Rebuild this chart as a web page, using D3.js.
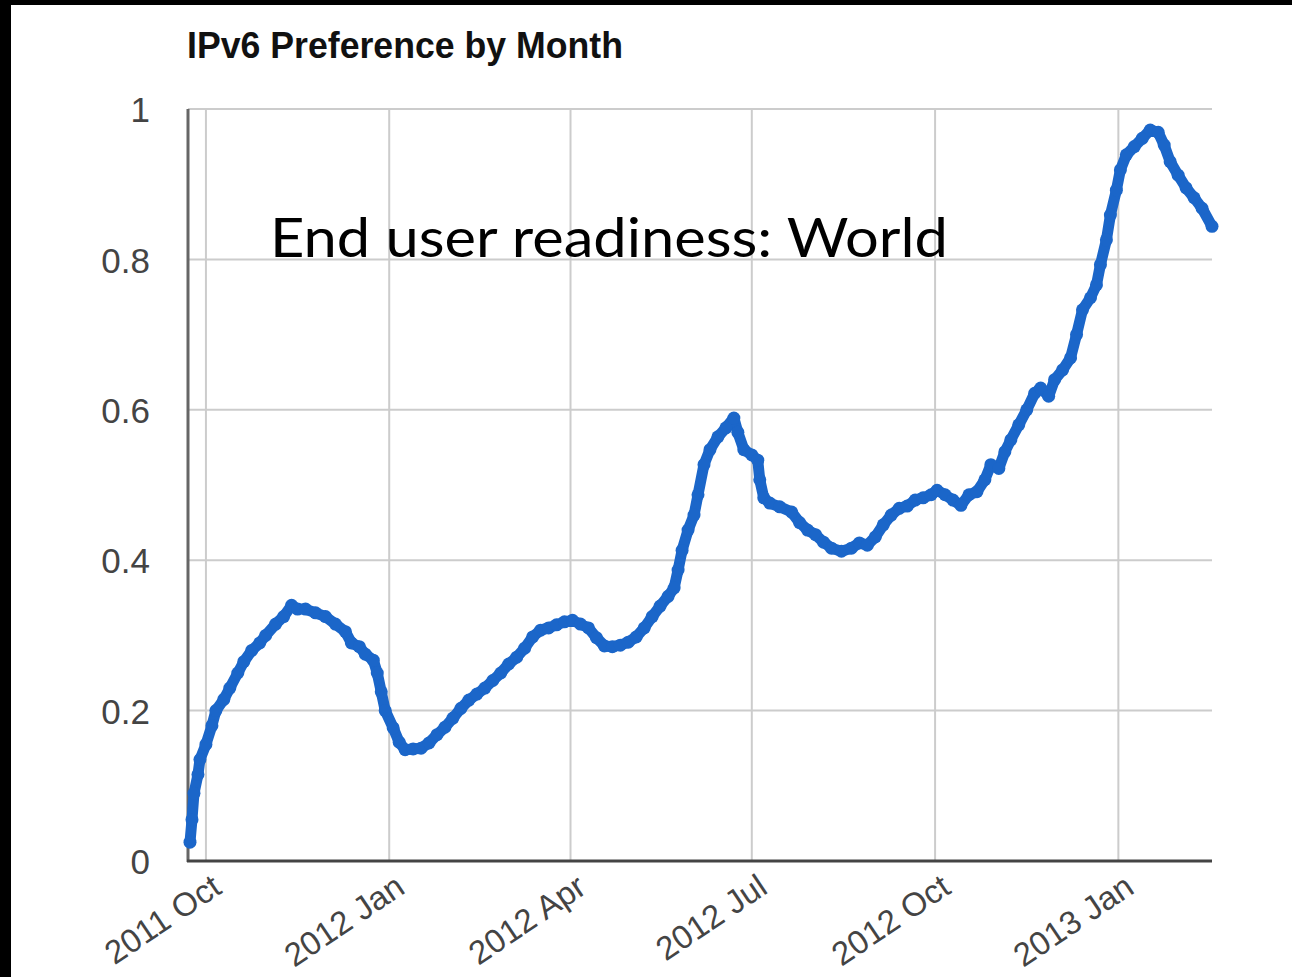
<!DOCTYPE html>
<html>
<head>
<meta charset="utf-8">
<script src="https://cdn.jsdelivr.net/npm/d3@7"></script>
<style>
html,body{margin:0;padding:0;background:#000;}
svg{display:block;}
</style>
</head>
<body>
<svg id="chart" width="1292" height="977"></svg>
<script>
// Data: days since 2011-10-01 and IPv6 preference value
const startDate = new Date(2011, 9, 1);
const dayOffsets = [-8,-7,-6,-4,-3,0,3,5,9,12,16,19,23,27,30,35,39,43,46,50,55,60,65,70,73,77,80,84,86,88,90,94,97,100,104,108,112,116,120,124,128,132,136,140,144,148,152,156,160,164,168,172,176,180,184,188,192,196,200,204,208,212,216,220,224,228,232,235,237,239,242,245,247,250,253,257,261,265,267,270,274,277,278,280,283,288,294,298,302,306,310,314,319,324,328,332,336,340,344,348,352,356,360,364,367,371,375,379,383,387,391,394,398,401,404,408,412,416,419,423,426,430,434,437,440,444,447,449,452,454,457,459,462,466,470,474,478,481,484,488,492,496,500,505];
const values = [0.025,0.055,0.09,0.115,0.135,0.155,0.18,0.2,0.215,0.23,0.25,0.265,0.28,0.29,0.30,0.315,0.325,0.34,0.335,0.335,0.33,0.325,0.315,0.305,0.29,0.285,0.275,0.267,0.25,0.225,0.2,0.177,0.158,0.148,0.149,0.15,0.157,0.168,0.178,0.19,0.203,0.214,0.222,0.23,0.24,0.25,0.262,0.271,0.283,0.298,0.307,0.31,0.314,0.318,0.32,0.315,0.31,0.297,0.286,0.285,0.287,0.291,0.298,0.31,0.325,0.339,0.352,0.363,0.387,0.413,0.44,0.46,0.487,0.527,0.547,0.564,0.576,0.589,0.57,0.547,0.54,0.533,0.507,0.483,0.476,0.471,0.464,0.45,0.44,0.434,0.424,0.416,0.412,0.416,0.423,0.42,0.431,0.447,0.46,0.469,0.472,0.48,0.483,0.487,0.493,0.487,0.48,0.473,0.487,0.491,0.507,0.527,0.522,0.544,0.56,0.58,0.6,0.622,0.629,0.618,0.64,0.653,0.669,0.7,0.733,0.749,0.766,0.793,0.826,0.859,0.892,0.919,0.939,0.95,0.961,0.972,0.969,0.952,0.93,0.912,0.895,0.882,0.868,0.844];
const xTickDates = ["2011-10-01","2012-01-01","2012-04-01","2012-07-01","2012-10-01","2013-01-01"];
const xTickLabels = ["2011 Oct","2012 Jan","2012 Apr","2012 Jul","2012 Oct","2013 Jan"];
const yTicks = [0,0.2,0.4,0.6,0.8,1];
const yTickLabels = ["0","0.2","0.4","0.6","0.8","1"];
const titleText = "IPv6 Preference by Month";
const annotationText = "End user readiness: World";

const parse = d3.timeParse("%Y-%m-%d");
const data = dayOffsets.map((d,i)=>({date:d3.timeDay.offset(startDate,d), value:values[i]}));

const svg = d3.select("#chart");
svg.append("rect").attr("x",11).attr("y",5).attr("width",1292-11).attr("height",977-5).attr("fill","#fff");

const pL=188, pR=1212, pT=109, pB=861;
const x = d3.scaleTime()
  .domain([d3.timeDay.offset(startDate,-9), d3.timeDay.offset(startDate,505)])
  .range([pL,pR]);
const y = d3.scaleLinear().domain([0,1]).range([pB,pT]);

const tickDates = xTickDates.map(parse);

const g = svg.append("g");
g.selectAll(".hg").data(yTicks.filter(v=>v>0)).enter().append("line")
  .attr("x1",pL).attr("x2",pR).attr("y1",d=>y(d)).attr("y2",d=>y(d))
  .attr("stroke","#cccccc").attr("stroke-width",2);
g.selectAll(".vg").data(tickDates).enter().append("line")
  .attr("x1",d=>x(d)).attr("x2",d=>x(d)).attr("y1",pT).attr("y2",pB)
  .attr("stroke","#cccccc").attr("stroke-width",2);

svg.append("line").attr("x1",pL).attr("x2",pL).attr("y1",pT).attr("y2",pB+1)
  .attr("stroke","#666").attr("stroke-width",3);
svg.append("line").attr("x1",pL-1).attr("x2",pR).attr("y1",pB).attr("y2",pB)
  .attr("stroke","#444").attr("stroke-width",3);

const yAxis = d3.axisLeft(y).tickValues(yTicks).tickFormat((d,i)=>yTickLabels[i]).tickSize(0).tickPadding(38);
const ya = svg.append("g").attr("transform",`translate(${pL},0)`).call(yAxis);
ya.select(".domain").remove();
ya.selectAll("text").attr("font-family","'Liberation Sans', Arial, sans-serif")
  .attr("font-size",35).attr("fill","#444").attr("dy","0.36em");

const xAxis = d3.axisBottom(x).tickValues(tickDates).tickFormat((d,i)=>xTickLabels[i]).tickSize(0);
const xa = svg.append("g").attr("transform",`translate(0,${pB})`).call(xAxis);
xa.select(".domain").remove();
xa.selectAll("text")
  .attr("font-family","'Liberation Sans', Arial, sans-serif")
  .attr("font-size",33).attr("fill","#444")
  .attr("text-anchor","end").attr("dy",null).attr("y",null)
  .attr("transform","translate(17,31) rotate(-34)");

const line = d3.line().x(d=>x(d.date)).y(d=>y(d.value)).curve(d3.curveLinear);
const blue = "#1b66c9";
svg.append("path").datum(data).attr("d",line).attr("fill","none")
  .attr("stroke",blue).attr("stroke-width",11).attr("stroke-linejoin","round").attr("stroke-linecap","round");
svg.selectAll(".pt").data(data).enter().append("circle")
  .attr("cx",d=>x(d.date)).attr("cy",d=>y(d.value)).attr("r",6.5).attr("fill",blue);

svg.append("text").attr("x",187).attr("y",58).text(titleText)
  .attr("font-family","'Liberation Sans', Arial, sans-serif").attr("font-weight","bold")
  .attr("font-size",36).attr("fill","#111").attr("textLength",436).attr("lengthAdjust","spacingAndGlyphs");

svg.append("text").attr("x",270).attr("y",257).text(annotationText)
  .attr("font-family","Lato, 'Open Sans', sans-serif")
  .attr("font-size",55).attr("fill","#000").attr("textLength",678).attr("lengthAdjust","spacingAndGlyphs");
</script>
</body>
</html>
